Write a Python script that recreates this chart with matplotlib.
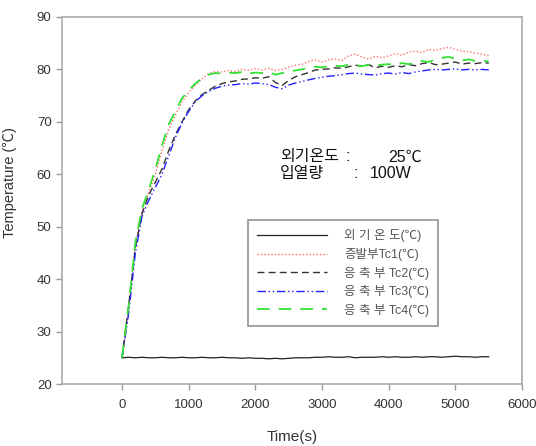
import matplotlib
matplotlib.use("Agg")
import matplotlib.pyplot as plt

plt.rcParams['font.family'] = ['Liberation Sans', 'Noto Sans CJK KR', 'DejaVu Sans']

# 시간 (s)
time = list(range(0, 5600, 100))

ambient = [25.0, 25.1, 25.0, 25.1, 25.0, 25.0, 25.1, 25.0, 25.0, 25.1,
           25.0, 25.0, 25.1, 25.0, 25.0, 25.1, 25.0, 25.0, 24.9, 25.0,
           24.9, 24.9, 24.8, 24.9, 24.8, 24.9, 25.0, 25.0, 25.0, 25.1,
           25.1, 25.2, 25.1, 25.1, 25.2, 25.0, 25.1, 25.1, 25.1, 25.2,
           25.1, 25.2, 25.1, 25.1, 25.2, 25.1, 25.2, 25.2, 25.1, 25.2,
           25.3, 25.2, 25.2, 25.1, 25.2, 25.2]
tc1 = [25.0, 34.0, 46.5, 53.0, 56.5, 60.0, 64.5, 68.5, 71.3, 73.8,
       75.6, 77.0, 78.2, 79.2, 79.6, 79.5, 79.8, 79.6, 80.0, 79.8,
       80.1, 79.9, 80.2, 79.8, 80.0, 80.4, 80.8, 81.0, 81.5, 81.8,
       81.4, 81.8, 82.0, 81.7, 82.6, 82.9, 82.3, 82.0, 82.5, 82.2,
       82.6, 83.0, 82.7, 83.3, 83.5, 83.2, 83.8, 83.6, 84.0, 84.2,
       83.8, 83.5, 83.4, 83.1, 82.9, 82.6]
tc2 = [25.0, 35.0, 46.0, 52.5, 56.0, 58.5, 61.0, 64.5, 67.5, 70.0,
       72.3, 74.0, 75.2, 76.0, 76.8, 77.3, 77.6, 77.8, 78.1, 78.2,
       78.4, 78.3, 78.6, 77.5, 76.9, 77.9, 78.6, 79.0, 79.4, 79.9,
       80.0, 80.1, 80.3, 80.2, 80.5, 80.8, 80.6, 80.9, 80.3, 80.6,
       80.4, 80.7, 80.5, 80.9, 80.7, 81.1, 81.3, 80.9, 81.0, 81.2,
       81.4, 81.0, 81.2, 81.1, 81.3, 81.2]
tc3 = [25.0, 33.5, 45.0, 52.0, 55.0, 57.5, 60.0, 63.5, 67.0, 69.8,
       72.0, 73.8, 75.0, 75.8, 76.4, 76.8, 77.0, 77.1, 77.3, 77.2,
       77.4, 77.3, 77.1, 76.6, 76.3, 77.0, 77.4, 77.7, 78.0, 78.3,
       78.5, 78.7, 78.8, 79.0, 79.2, 79.3, 79.1, 79.0, 78.9, 79.2,
       79.3, 79.1, 79.4, 79.2, 79.5, 79.7, 79.9, 80.0, 79.9, 80.0,
       80.1, 79.9, 80.0, 79.9, 80.0, 79.9]
tc4 = [25.0, 35.0, 47.0, 53.5, 57.0, 61.0, 65.5, 69.5, 72.0, 74.5,
       76.0, 77.3, 78.3, 79.0, 79.3, 79.2, 79.4, 79.3, 79.5, 79.2,
       79.4, 79.3, 79.5, 79.0, 79.3, 79.6, 79.8, 80.0, 80.3, 80.5,
       80.4, 80.6, 80.7, 80.6, 80.9, 80.8, 80.6, 80.9, 80.7, 80.9,
       81.0, 80.8, 81.2, 81.0, 81.3, 81.6, 81.4, 81.9, 82.2, 82.4,
       82.0, 81.7, 81.9, 81.6, 81.7, 81.5]

labels = ['외 기 온 도(℃)', '증발부Tc1(℃)', '응 축 부 Tc2(℃)',
          '응 축 부 Tc3(℃)', '응 축 부 Tc4(℃)']
xticks = [0, 1000, 2000, 3000, 4000, 5000, 6000]
yticks = [20, 30, 40, 50, 60, 70, 80, 90]

fig = plt.figure(figsize=(5.36, 4.46), dpi=100)
ax = fig.add_axes([0.1157, 0.139, 0.8583, 0.823])

ax.plot(time, ambient, color='#222222', linewidth=0.9, linestyle='-', label=labels[0])
ax.plot(time, tc1, color='#ff7070', linewidth=1.0, linestyle=(0, (1, 1.5)), label=labels[1])
ax.plot(time, tc2, color='#333333', linewidth=1.0, linestyle=(0, (5, 3)), label=labels[2])
ax.plot(time, tc3, color='#2020ff', linewidth=1.0, linestyle=(0, (6, 2, 1, 2, 1, 2)), label=labels[3])
ax.plot(time, tc4, color='#33e033', linewidth=1.3, linestyle=(0, (7, 5)), label=labels[4])

ax.set_xlim(-900, 6000)
ax.set_ylim(20, 90)
ax.set_xticks(xticks)
ax.set_yticks(yticks)
ax.tick_params(direction='out', length=4, width=1, colors='#999999',
               labelcolor='#333333', labelsize=9.5)
ax.tick_params(axis='x', pad=7)

for s in ax.spines.values():
    s.set_color('#aaaaaa')
    s.set_linewidth(1.2)

ax.set_xlabel('Time(s)', fontsize=11, color='#333333', va='top')
ax.set_ylabel('Temperature (℃)', fontsize=10.5, color='#333333')
ax.xaxis.set_label_coords(0.5, -0.125)
ax.yaxis.set_label_coords(-0.097, 0.548)

# 조건 표시
ax.text(2370, 63.3, '외기온도', fontsize=11.5, ha='left', va='center', color='#111111')
ax.text(3380, 63.3, ':', fontsize=11.5, ha='center', va='center', color='#111111')
ax.text(4000, 63.3, '25℃', fontsize=11.5, ha='left', va='center', color='#111111')
ax.text(2370, 60.2, '입열량', fontsize=11.5, ha='left', va='center', color='#111111')
ax.text(3500, 60.2, ':', fontsize=11.5, ha='center', va='center', color='#111111')
ax.text(3720, 60.2, '100W', fontsize=11.5, ha='left', va='center', color='#111111')

leg = ax.legend(loc='upper left', bbox_to_anchor=(0.404, 0.447), fontsize=9,
                handlelength=5.6, frameon=True, fancybox=False,
                borderpad=0.75, borderaxespad=0, labelspacing=0.45,
                handletextpad=1.35)
leg.get_frame().set_edgecolor('#777777')
leg.get_frame().set_linewidth(1.2)
for t in leg.get_texts():
    t.set_color('#555555')

fig.savefig('out.png', dpi=100)
